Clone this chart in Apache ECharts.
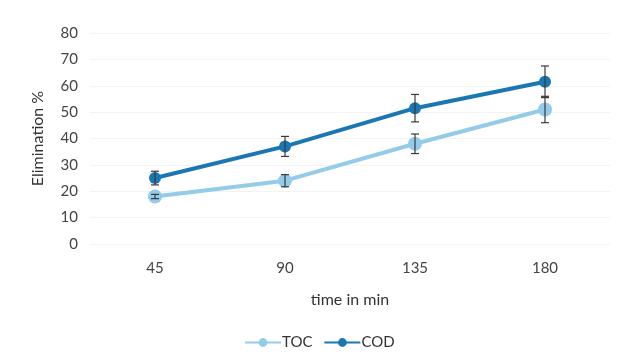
<!DOCTYPE html>
<html>
<head>
<meta charset="utf-8">
<script src="https://cdn.jsdelivr.net/npm/echarts@6/dist/echarts.min.js"></script>
<style>
html,body{margin:0;padding:0;background:#fff;}
#chart{width:617px;height:362px;}
</style>
</head>
<body>
<div id="chart"></div>
<script>
// Treatment time (min)
const categories = ['45', '90', '135', '180'];
// Mean elimination (%)
const tocValues = [18, 24, 38, 51];
const codValues = [25, 37, 51.5, 61.5];
// Standard deviation (%)
const tocErrors = [0.8, 2.3, 3.7, 5];
const codErrors = [2.6, 3.8, 5.2, 6];
const yTicks = [0, 10, 20, 30, 40, 50, 60, 70, 80];

const FONT = 'Lato';
const TOC_COLOR = '#93cbe9';
const COD_COLOR = '#1b77b3';

function errorData(vals, errs) {
  return vals.map((v, i) => [i, v - errs[i], v + errs[i]]);
}

function renderError(params, api) {
  const x = api.value(0);
  const lo = api.coord([x, api.value(1)]);
  const hi = api.coord([x, api.value(2)]);
  const half = 4;
  const style = { stroke: '#3a3a3a', lineWidth: 1.2 };
  return {
    type: 'group',
    children: [
      { type: 'line', shape: { x1: hi[0], y1: hi[1], x2: lo[0], y2: lo[1] }, style },
      { type: 'line', shape: { x1: hi[0] - half, y1: hi[1], x2: hi[0] + half, y2: hi[1] }, style },
      { type: 'line', shape: { x1: lo[0] - half, y1: lo[1], x2: lo[0] + half, y2: lo[1] }, style }
    ]
  };
}

const chart = echarts.init(document.getElementById('chart'), null, { renderer: 'canvas' });
chart.setOption({
  animation: false,
  backgroundColor: '#fff',
  textStyle: { fontFamily: FONT },
  grid: { left: 90, right: 7, top: 33, bottom: 118 },
  legend: {
    top: 330,
    left: 239,
    itemWidth: 36,
    itemHeight: 11,
    itemGap: 11,
    textStyle: { fontFamily: FONT, fontSize: 15, color: '#333', padding: [0, 0, 0, -4] },
    data: ['TOC', 'COD']
  },
  xAxis: {
    type: 'category',
    data: categories,
    boundaryGap: true,
    name: 'time in min',
    nameLocation: 'middle',
    nameGap: 48,
    nameTextStyle: { fontFamily: FONT, fontSize: 16, color: '#333' },
    axisLine: { show: false },
    axisTick: { show: false },
    axisLabel: { fontFamily: FONT, fontSize: 15, color: '#444', margin: 17 }
  },
  yAxis: {
    type: 'value',
    min: yTicks[0],
    max: yTicks[yTicks.length - 1],
    interval: 10,
    name: 'Elimination %',
    nameLocation: 'middle',
    nameGap: 44,
    nameTextStyle: { fontFamily: FONT, fontSize: 16, color: '#333' },
    axisLine: { show: false },
    axisTick: { show: false },
    axisLabel: { fontFamily: FONT, fontSize: 15, color: '#444', margin: 12 },
    splitLine: { lineStyle: { color: '#f3f3f3', width: 1 } }
  },
  series: [
    {
      name: 'TOC',
      type: 'line',
      data: tocValues,
      symbol: 'circle',
      symbolSize: 14,
      itemStyle: { color: TOC_COLOR },
      lineStyle: { color: TOC_COLOR, width: 4 },
      z: 2
    },
    {
      name: 'COD',
      type: 'line',
      data: codValues,
      symbol: 'circle',
      symbolSize: 12,
      itemStyle: { color: COD_COLOR },
      lineStyle: { color: COD_COLOR, width: 4 },
      z: 3
    },
    {
      name: 'TOC error',
      type: 'custom',
      renderItem: renderError,
      data: errorData(tocValues, tocErrors),
      encode: { x: 0, y: [1, 2] },
      z: 5,
      silent: true
    },
    {
      name: 'COD error',
      type: 'custom',
      renderItem: renderError,
      data: errorData(codValues, codErrors),
      encode: { x: 0, y: [1, 2] },
      z: 5,
      silent: true
    }
  ]
});
</script>
</body>
</html>
